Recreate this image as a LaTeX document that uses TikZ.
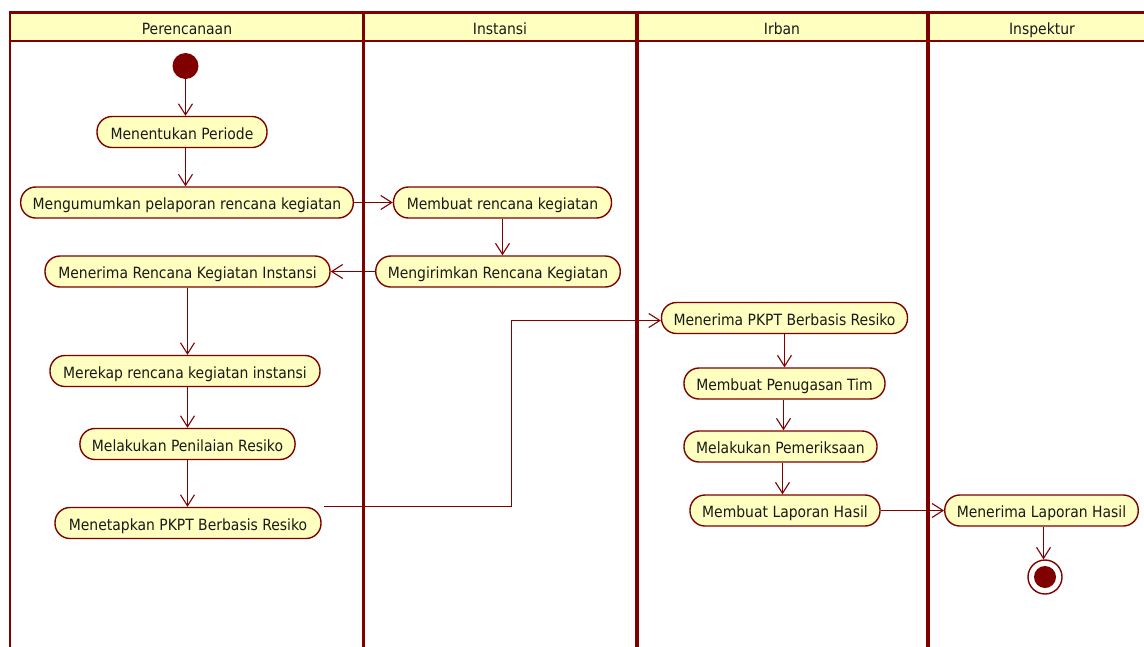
\documentclass[tikz,border=0pt]{standalone}
\usepackage{fontspec}
\setmainfont{DejaVu Sans Condensed}
\usetikzlibrary{arrows.meta,calc}
\definecolor{dred}{RGB}{128,0,0}
\definecolor{lyel}{RGB}{255,255,192}
\definecolor{txt}{RGB}{25,25,25}
\tikzset{
  act/.style={draw=dred, line width=1.4pt, fill=lyel, rounded corners=15pt, minimum height=31pt, inner xsep=12pt, inner ysep=3pt, text height=16pt, text depth=2pt, text=txt, font=\fontsize{15.5pt}{18pt}\selectfont},
  flow/.style={draw=dred, line width=1.1pt, -{Straight Barb[length=11pt,width=14pt,line width=1.1pt]}},
  lanesep/.style={draw=dred, line width=3.5pt},
  hdr/.style={text=txt, inner ysep=1pt, text height=16pt, text depth=2pt, font=\fontsize{15.5pt}{18pt}\selectfont}
}
\begin{document}
\begin{tikzpicture}[x=1pt,y=-1pt]
\useasboundingbox (0,0) rectangle (1144,646);
% swimlane frame
\fill[lyel] (10,12) rectangle (1150,41);
\draw[dred, line width=2pt] (10,41) -- (1150,41);
\draw[dred, line width=3pt] (9,12) -- (1150,12);
\draw[dred, line width=2.5pt] (10,11) -- (10,650);
\draw[lanesep] (363.5,11) -- (363.5,650);
\draw[lanesep] (637,11) -- (637,650);
\draw[lanesep] (928,11) -- (928,650);
\node[hdr] (h1) at (187,27) {Perencanaan};
\node[hdr] (h2) at (500,27) {Instansi};
\node[hdr] (h3) at (782,27) {Irban};
\node[hdr] (h4) at (1042,27) {Inspektur};
% start / end
\node[circle, fill=dred, minimum size=26pt, inner sep=0pt] (start) at (185.5,66) {};
\node[circle, draw=dred, line width=1.4pt, fill=white, minimum size=34pt, inner sep=0pt] (end) at (1045,577) {};
\node[circle, fill=dred, minimum size=22pt, inner sep=0pt] (endin) at (1045,577) {};
% activities
\node[act, minimum width=170pt] (n1) at (182,132) {Menentukan Periode};
\node[act, minimum width=330pt] (n2) at (187,202.5) {Mengumumkan pelaporan rencana kegiatan};
\node[act, minimum width=285pt] (n3) at (187.5,271.5) {Menerima Rencana Kegiatan Instansi};
\node[act, minimum width=218pt] (n4) at (502.5,202.5) {Membuat rencana kegiatan};
\node[act, minimum width=244pt] (n5) at (498,271.5) {Mengirimkan Rencana Kegiatan};
\node[act, minimum width=270pt] (n6) at (185,371) {Merekap rencana kegiatan instansi};
\node[act, minimum width=215pt] (n7) at (187.5,444) {Melakukan Penilaian Resiko};
\node[act, minimum width=266pt] (n8) at (188,523) {Menetapkan PKPT Berbasis Resiko};
\node[act, minimum width=245pt] (n9) at (784.5,318) {Menerima PKPT Berbasis Resiko};
\node[act, minimum width=201pt] (n10) at (784.5,383.5) {Membuat Penugasan Tim};
\node[act, minimum width=193pt] (n11) at (780.5,446.5) {Melakukan Pemeriksaan};
\node[act, minimum width=190pt] (n12) at (785,510.5) {Membuat Laporan Hasil};
\node[act, minimum width=191pt] (n13) at (1041.5,510.5) {Menerima Laporan Hasil};
% flows
\draw[flow] (start) -- (start |- n1.north);
\draw[flow] (n1.south -| start) -- (n2.north -| start);
\draw[flow] (n2) -- (n4);
\draw[flow] (n4.south) -- (n4.south |- n5.north);
\draw[flow] (n5) -- (n3);
\draw[flow] (n3.south) -- (n3.south |- n6.north);
\draw[flow] (n6.south -| n3.south) -- (n7.north -| n3.south);
\draw[flow] (n7.south) -- (n7.south |- n8.north);
\coordinate (bend) at (511.5,320.5);
\draw[flow] ([xshift=2pt]n8.north east) -| (bend) -- (bend -| n9.west);
\draw[flow] (n9.south) -- (n9.south |- n10.north);
\draw[flow] ([xshift=-1pt]n10.south) -- ([xshift=-1pt]n10.south |- n11.north);
\draw[flow] ([xshift=2pt]n11.south) -- ([xshift=2pt]n11.south |- n12.north);
\draw[flow] (n12) -- (n13);
\draw[flow] ([xshift=2pt]n13.south) -- ([xshift=2pt]n13.south |- end.north);
\end{tikzpicture}
\end{document}
